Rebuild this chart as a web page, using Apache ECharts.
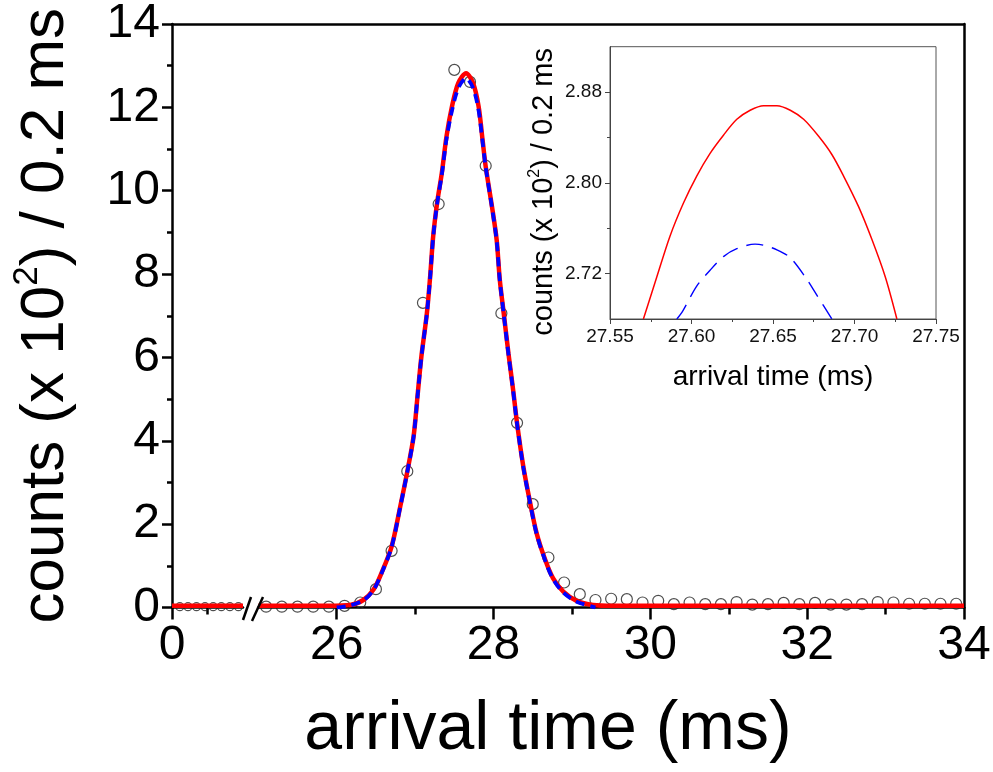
<!DOCTYPE html>
<html>
<head>
<meta charset="utf-8">
<script src="https://cdn.jsdelivr.net/npm/echarts@6/dist/echarts.min.js"></script>
<style>
html,body{margin:0;padding:0;background:#fff;}
#chart{width:993px;height:772px;}
</style>
</head>
<body>
<div id="chart"></div>
<script>
// ---------- data ----------
// measured points (open circles), right part of broken axis
const pointX = [25.1,25.3,25.5,25.7,25.9,26.1,26.3,26.5,26.7,26.9,27.1,27.3,27.5,27.7,27.9,28.1,28.3,28.5,28.7,28.9,
  29.1,29.3,29.5,29.7,29.9,30.1,30.3,30.5,30.7,30.9,31.1,31.3,31.5,31.7,31.9,32.1,32.3,32.5,32.7,32.9,33.1,33.3,33.5,33.7,33.9];
const pointY = [0.02,0.02,0.02,0.02,0.02,0.04,0.12,0.44,1.36,3.27,7.31,9.68,12.90,12.61,10.60,7.06,4.43,2.48,1.20,0.60,
  0.32,0.18,0.21,0.20,0.12,0.16,0.08,0.12,0.08,0.08,0.13,0.07,0.08,0.11,0.08,0.11,0.07,0.07,0.08,0.13,0.12,0.09,0.09,0.09,0.09];
// measured points, left part of broken axis (0 .. 2)
const leftPointX = [0.22,0.45,0.69,0.93,1.16,1.39,1.63,1.87];
const leftPointY = [0.02,0.02,0.02,0.02,0.02,0.02,0.02,0.02];

// red fit curve (solid)
const redX = [25.0,25.9,26.17,26.34,26.47,26.57,26.70,26.81,26.90,26.98,27.03,27.08,27.15,27.19,27.23,27.28,27.34,27.40,27.47,27.55,
  27.65,27.74,27.81,27.86,27.90,27.98,28.04,28.08,28.13,28.19,28.25,28.30,28.38,28.46,28.55,28.66,28.76,28.89,29.06,29.27,29.53,34.0];
const redY = [0.04,0.04,0.06,0.18,0.43,0.82,1.46,2.42,3.26,4.10,5.06,6.02,7.06,7.90,8.90,9.70,10.42,11.30,12.02,12.58,
  12.82,12.58,12.02,11.22,10.58,9.62,8.82,7.86,7.06,6.10,5.22,4.42,3.38,2.58,1.78,1.14,0.70,0.38,0.16,0.06,0.04,0.04];
const redLeftX = [0, 2];
const redLeftY = [0.04, 0.04];

// blue fit curve (dashed)
const blueX = [26.0,26.17,26.34,26.47,26.57,26.70,26.81,26.90,26.98,27.03,27.08,27.15,27.19,27.23,27.28,27.34,27.40,27.47,27.55,
  27.65,27.74,27.81,27.86,27.90,27.98,28.04,28.08,28.13,28.19,28.25,28.30,28.38,28.46,28.55,28.66,28.76,28.89,29.06,29.30];
const blueY = [0.0,0.05,0.17,0.42,0.81,1.45,2.41,3.25,4.09,5.05,6.01,7.05,7.88,8.88,9.68,10.38,11.24,11.92,12.46,
  12.70,12.46,11.92,11.18,10.56,9.60,8.80,7.84,7.04,6.08,5.20,4.40,3.36,2.56,1.76,1.12,0.68,0.36,0.14,0.0];

// inset curves
const insetRedX = [27.5705,27.5787,27.5868,27.5950,27.6032,27.6114,27.6196,27.6278,27.6360,27.6442,27.6524,27.6606,27.6688,
  27.6780,27.6861,27.6933,27.7025,27.7107,27.7189,27.7260];
const insetRedY = [2.680,2.717,2.753,2.782,2.806,2.826,2.842,2.856,2.864,2.868,2.868,2.864,2.856,2.841,2.825,2.806,2.779,2.750,2.717,2.680];
const insetBlueX = [27.5910,27.5946,27.6032,27.6114,27.6196,27.6278,27.6390,27.6442,27.6524,27.6606,27.6698,27.6769,27.6861];
const insetBlueY = [2.680,2.687,2.709,2.723,2.735,2.742,2.746,2.745,2.741,2.734,2.717,2.701,2.680];

// tick values
const mainYTicks = {min: 0, max: 14, interval: 2};
const leftXMajor = [0];
const leftXMinor = [1];
const rightXMajor = [26, 28, 30, 32, 34];
const rightXMinor = [27, 29, 31, 33];
const insetYMajor = [2.72, 2.80, 2.88];
const insetYMinor = [2.76, 2.84];

// ---------- chart ----------
const zip = (xs, ys) => xs.map((x, i) => [x, ys[i]]);
const FONT = 'Liberation Sans, Arial, sans-serif';
const BLACK = '#000';

const chart = echarts.init(document.getElementById('chart'), null, {renderer: 'canvas'});

const hideAll = {axisLine:{show:false}, axisTick:{show:false}, axisLabel:{show:false}, splitLine:{show:false}};

const option = {
  backgroundColor: '#fff',
  animation: false,
  grid: [
    {left: 172, top: 24, width: 71, height: 583.5, outerBoundsMode: 'none'},
    {left: 258.3, top: 24, width: 705.7, height: 583.5, outerBoundsMode: 'none'},
    {left: 172, top: 24, width: 792, height: 583.5, outerBoundsMode: 'none'},
    {left: 610, top: 46.7, width: 326, height: 272.3, outerBoundsMode: 'none',
     show: true, borderColor: '#555', borderWidth: 1, backgroundColor: 'transparent'}
  ],
  xAxis: [
    {type: 'value', gridIndex: 0, position: 'bottom', min: 0, max: 2,
     axisLine: {show: true, onZero: false, lineStyle: {color: BLACK, width: 2.5}},
     axisTick: {show: true, customValues: leftXMajor, length: 12, lineStyle: {color: BLACK, width: 2.5}},
     axisLabel: {show: true, customValues: leftXMajor, margin: 14, fontSize: 48, fontFamily: FONT, color: BLACK},
     splitLine: {show: false}},
    {type: 'value', gridIndex: 0, position: 'bottom', min: 0, max: 2,
     axisLine: {show: false, onZero: false},
     axisTick: {show: true, customValues: leftXMinor, length: 7, lineStyle: {color: BLACK, width: 2.5}},
     axisLabel: {show: false}, splitLine: {show: false}},
    {type: 'value', gridIndex: 1, position: 'bottom', min: 25, max: 34,
     axisLine: {show: true, onZero: false, lineStyle: {color: BLACK, width: 2.5}},
     axisTick: {show: true, customValues: rightXMajor, length: 12, lineStyle: {color: BLACK, width: 2.5}},
     axisLabel: {show: true, customValues: rightXMajor, margin: 14, fontSize: 48, fontFamily: FONT, color: BLACK},
     splitLine: {show: false}},
    {type: 'value', gridIndex: 1, position: 'bottom', min: 25, max: 34,
     axisLine: {show: false, onZero: false},
     axisTick: {show: true, customValues: rightXMinor, length: 7, lineStyle: {color: BLACK, width: 2.5}},
     axisLabel: {show: false}, splitLine: {show: false}},
    {type: 'value', gridIndex: 2, position: 'top', min: 0, max: 1,
     axisLine: {show: true, onZero: false, lineStyle: {color: BLACK, width: 2.5}},
     axisTick: {show: false}, axisLabel: {show: false}, splitLine: {show: false}},
    {type: 'value', gridIndex: 3, position: 'bottom', min: 27.55, max: 27.75, interval: 0.05,
     axisLine: {show: true, onZero: false, lineStyle: {color: '#444', width: 1}},
     axisTick: {show: true, length: 5, lineStyle: {color: '#444', width: 1}},
     minorTick: {show: true, splitNumber: 2, length: 3, lineStyle: {color: '#444', width: 1}},
     axisLabel: {show: true, margin: 8, fontSize: 19, fontFamily: FONT, color: '#111',
                 formatter: v => v.toFixed(2)},
     splitLine: {show: false}, minorSplitLine: {show: false},
     name: 'arrival time (ms)', nameLocation: 'middle', nameGap: 44,
     nameTextStyle: {fontSize: 28, fontFamily: FONT, color: BLACK}}
  ],
  yAxis: [
    {type: 'value', gridIndex: 0, position: 'left', min: mainYTicks.min, max: mainYTicks.max, interval: mainYTicks.interval,
     axisLine: {show: true, onZero: false, lineStyle: {color: BLACK, width: 2.5}},
     axisTick: {show: true, length: 10, lineStyle: {color: BLACK, width: 2.5}},
     minorTick: {show: true, splitNumber: 2, length: 5, lineStyle: {color: BLACK, width: 2.5}},
     axisLabel: {show: true, margin: 12, fontSize: 48, fontFamily: FONT, color: BLACK},
     splitLine: {show: false}, minorSplitLine: {show: false},
     name: 'counts (x 10{sup|2}) / 0.2 ms', nameLocation: 'middle', nameGap: 90, nameRotate: 90,
     nameTextStyle: {fontSize: 62, fontFamily: FONT, color: BLACK, lineHeight: 72,
       rich: {sup: {fontSize: 35, fontFamily: FONT, color: BLACK, verticalAlign: 'top', lineHeight: 35}}}},
    Object.assign({type: 'value', gridIndex: 1, position: 'left', min: 0, max: 14}, hideAll),
    {type: 'value', gridIndex: 2, position: 'right', min: 0, max: 14,
     axisLine: {show: true, onZero: false, lineStyle: {color: BLACK, width: 2.5}},
     axisTick: {show: false}, axisLabel: {show: false}, splitLine: {show: false}},
    {type: 'value', gridIndex: 3, position: 'left', min: 2.68, max: 2.92, interval: 0.04,
     axisLine: {show: true, onZero: false, lineStyle: {color: '#444', width: 1}},
     axisTick: {show: true, customValues: insetYMajor, length: 5, lineStyle: {color: '#444', width: 1}},
     axisLabel: {show: true, customValues: insetYMajor, margin: 8, fontSize: 19, fontFamily: FONT, color: '#111',
                 formatter: v => Number(v).toFixed(2)},
     splitLine: {show: false},
     name: 'counts (x 10{sup|2}) / 0.2 ms', nameLocation: 'middle', nameGap: 50, nameRotate: 90,
     nameTextStyle: {fontSize: 29, fontFamily: FONT, color: BLACK, lineHeight: 33, padding: [0, 18, 0, 0],
       rich: {sup: {fontSize: 16, fontFamily: FONT, color: BLACK, verticalAlign: 'top', lineHeight: 16}}}},
    {type: 'value', gridIndex: 3, position: 'left', min: 2.68, max: 2.92,
     axisLine: {show: false, onZero: false},
     axisTick: {show: true, customValues: insetYMinor, length: 3, lineStyle: {color: '#444', width: 1}},
     axisLabel: {show: false}, splitLine: {show: false}}
  ],
  series: [
    {type: 'scatter', name: 'data', xAxisIndex: 2, yAxisIndex: 1, z: 2,
     symbol: 'circle', symbolSize: 11, data: zip(pointX, pointY),
     itemStyle: {color: 'rgba(0,0,0,0)', borderColor: '#222', borderWidth: 1.2}},
    {type: 'scatter', name: 'data-left', xAxisIndex: 0, yAxisIndex: 0, z: 2,
     symbol: 'circle', symbolSize: 8, data: zip(leftPointX, leftPointY),
     itemStyle: {color: 'rgba(0,0,0,0)', borderColor: '#222', borderWidth: 1.1}},
    {type: 'line', name: 'red', xAxisIndex: 2, yAxisIndex: 1, z: 3, showSymbol: false, smooth: 0.3,
     data: zip(redX, redY), lineStyle: {color: '#ff0000', width: 4.5}},
    {type: 'line', name: 'red-left', xAxisIndex: 0, yAxisIndex: 0, z: 3, showSymbol: false,
     data: zip(redLeftX, redLeftY), lineStyle: {color: '#ff0000', width: 4.5}},
    {type: 'line', name: 'blue', xAxisIndex: 2, yAxisIndex: 1, z: 4, showSymbol: false, smooth: 0.3,
     data: zip(blueX, blueY), lineStyle: {color: '#0000ff', width: 3.8, type: [9, 6]}},
    {type: 'line', name: 'inset-red', xAxisIndex: 5, yAxisIndex: 3, z: 3, showSymbol: false, smooth: 0.3,
     data: zip(insetRedX, insetRedY), lineStyle: {color: '#ff0000', width: 1.5}},
    {type: 'line', name: 'inset-blue', xAxisIndex: 5, yAxisIndex: 3, z: 3, showSymbol: false, smooth: 0.3,
     data: zip(insetBlueX, insetBlueY), lineStyle: {color: '#0000ff', width: 1.4, type: [17, 9]}}
  ],
  graphic: [
    {type: 'line', shape: {x1: 243, y1: 620, x2: 251, y2: 597}, style: {stroke: BLACK, lineWidth: 2.5}, z: 10},
    {type: 'line', shape: {x1: 252, y1: 621, x2: 263, y2: 597}, style: {stroke: BLACK, lineWidth: 2.5}, z: 10},
    {type: 'text', x: 548, y: 730, z: 10,
     style: {text: 'arrival time (ms)', fontSize: 68, fontFamily: FONT, fill: BLACK, align: 'center', verticalAlign: 'middle'}}
  ]
};
chart.setOption(option);
</script>
</body>
</html>
